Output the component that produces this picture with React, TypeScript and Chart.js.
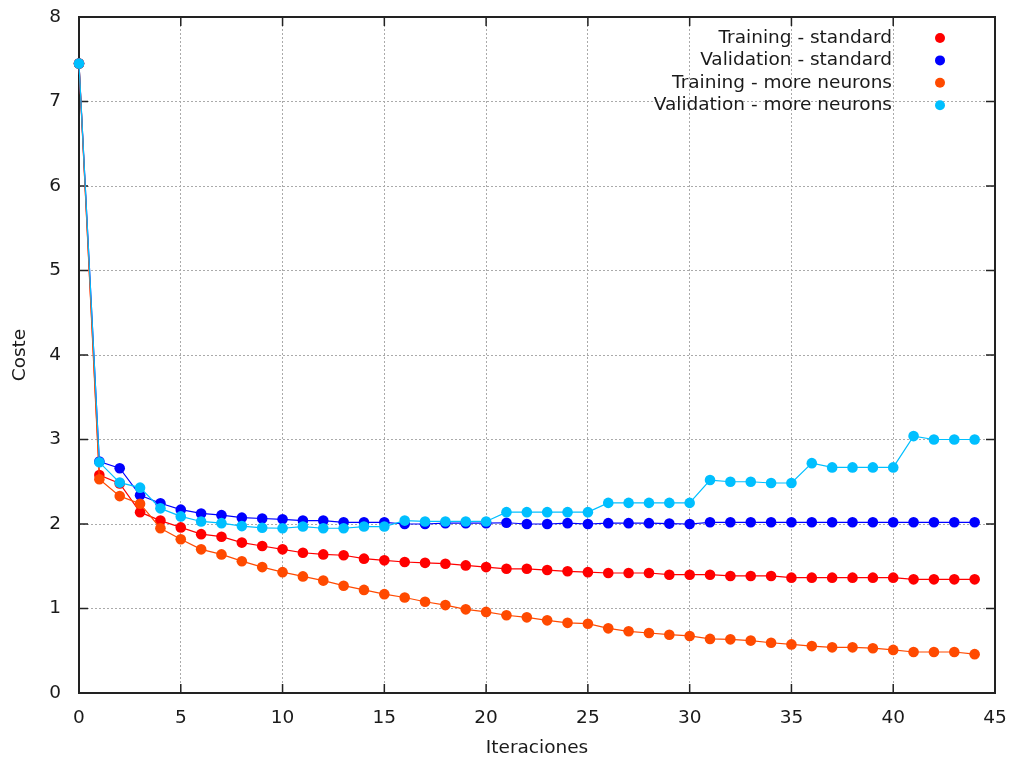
import React, { useEffect, useRef } from "react";
import { Chart, registerables } from "chart.js";

Chart.register(...registerables);

const iterations = [0, 1, 2, 3, 4, 5, 6, 7, 8, 9, 10, 11, 12, 13, 14, 15, 16, 17, 18, 19, 20, 21, 22, 23, 24, 25, 26, 27, 28, 29, 30, 31, 32, 33, 34, 35, 36, 37, 38, 39, 40, 41, 42, 43, 44];

const trainingStandard = [7.45, 2.58, 2.48, 2.14, 2.04, 1.96, 1.88, 1.85, 1.78, 1.74, 1.7, 1.66, 1.64, 1.63, 1.59, 1.57, 1.55, 1.54, 1.53, 1.51, 1.49, 1.47, 1.47, 1.455, 1.44, 1.43, 1.42, 1.42, 1.42, 1.4, 1.4, 1.4, 1.385, 1.385, 1.385, 1.365, 1.365, 1.365, 1.365, 1.365, 1.365, 1.345, 1.345, 1.345, 1.345];

const validationStandard = [7.45, 2.74, 2.66, 2.34, 2.245, 2.17, 2.125, 2.105, 2.075, 2.065, 2.055, 2.04, 2.04, 2.02, 2.02, 2.02, 2.0, 2.0, 2.01, 2.01, 2.01, 2.015, 2.0, 2.0, 2.01, 2.0, 2.01, 2.01, 2.01, 2.005, 2.0, 2.02, 2.02, 2.02, 2.02, 2.02, 2.02, 2.02, 2.02, 2.02, 2.02, 2.02, 2.02, 2.02, 2.02];

const trainingMore = [7.45, 2.53, 2.33, 2.24, 1.95, 1.82, 1.7, 1.64, 1.56, 1.49, 1.43, 1.38, 1.33, 1.27, 1.22, 1.17, 1.13, 1.08, 1.04, 0.99, 0.96, 0.92, 0.895, 0.86, 0.83, 0.82, 0.765, 0.73, 0.71, 0.69, 0.675, 0.64, 0.635, 0.62, 0.595, 0.575, 0.555, 0.54, 0.54, 0.53, 0.51, 0.485, 0.485, 0.485, 0.46];

const validationMore = [7.45, 2.73, 2.49, 2.43, 2.185, 2.09, 2.03, 2.01, 1.975, 1.955, 1.95, 1.97, 1.95, 1.95, 1.97, 1.97, 2.04, 2.03, 2.03, 2.03, 2.03, 2.14, 2.14, 2.14, 2.14, 2.14, 2.25, 2.25, 2.25, 2.25, 2.25, 2.52, 2.5, 2.5, 2.485, 2.485, 2.72, 2.67, 2.67, 2.67, 2.67, 3.04, 3.0, 3.0, 3.0];

const seriesLabels = ["Training - standard", "Validation - standard", "Training - more neurons", "Validation - more neurons"];
const seriesColors = ["#ff0000", "#0000ff", "#ff4a00", "#00bfff"];
const xTitle = "Iteraciones";
const yTitle = "Coste";

const FONT = "DejaVu Sans";
const FONT_SIZE = 18.5;

const framePlugin = {
  id: "gnuplotFrame",
  beforeDatasetsDraw(chart: any) {
    const { ctx, chartArea } = chart;
    const { left, right, top, bottom } = chartArea;
    const xs = chart.scales.x;
    const ys = chart.scales.y;
    ctx.save();
    ctx.strokeStyle = "#222";
    ctx.lineWidth = 1.5;
    const tl = 9;
    ctx.beginPath();
    xs.ticks.forEach((t: any) => {
      const px = xs.getPixelForValue(t.value);
      ctx.moveTo(px, bottom);
      ctx.lineTo(px, bottom - tl);
      ctx.moveTo(px, top);
      ctx.lineTo(px, top + tl);
    });
    ys.ticks.forEach((t: any) => {
      const py = ys.getPixelForValue(t.value);
      ctx.moveTo(left, py);
      ctx.lineTo(left + tl, py);
      ctx.moveTo(right, py);
      ctx.lineTo(right - tl, py);
    });
    ctx.stroke();
    ctx.lineWidth = 2;
    ctx.strokeRect(left, top, right - left, bottom - top);
    ctx.restore();
  },
  afterDraw(chart: any) {
    const { ctx, chartArea } = chart;
    ctx.save();
    ctx.font = `${FONT_SIZE}px "${FONT}"`;
    ctx.fillStyle = "#1a1a1a";
    ctx.textAlign = "center";
    ctx.textBaseline = "middle";
    ctx.fillText(xTitle, (chartArea.left + chartArea.right) / 2, 748);
    ctx.save();
    ctx.translate(20, 355);
    ctx.rotate(-Math.PI / 2);
    ctx.fillText(yTitle, 0, 0);
    ctx.restore();
    const textRight = 892;
    const markerX = 940;
    seriesLabels.forEach((lbl, i) => {
      const y = 38 + i * 22.4;
      ctx.textAlign = "right";
      ctx.fillStyle = "#1a1a1a";
      ctx.fillText(lbl, textRight, y);
      ctx.beginPath();
      ctx.fillStyle = seriesColors[i];
      ctx.arc(markerX, y, 5, 0, Math.PI * 2);
      ctx.fill();
    });
    ctx.restore();
  },
};

export default function App() {
  const canvasRef = useRef<HTMLCanvasElement | null>(null);

  useEffect(() => {
    if (!canvasRef.current) return;
    const series = [trainingStandard, validationStandard, trainingMore, validationMore];
    const datasets = series.map((vals, i) => ({
      label: seriesLabels[i],
      data: iterations.map((x, j) => ({ x, y: vals[j] })),
      borderColor: seriesColors[i],
      backgroundColor: seriesColors[i],
      pointBackgroundColor: seriesColors[i],
      pointBorderColor: seriesColors[i],
      borderWidth: 1.2,
      pointRadius: 5.3,
      pointBorderWidth: 0,
      pointHoverRadius: 5.3,
      fill: false,
      tension: 0,
      clip: false as any,
      order: 3 - i,
    }));
    const chart = new Chart(canvasRef.current, {
      type: "line",
      data: { datasets },
      plugins: [framePlugin],
      options: {
        animation: false,
        responsive: true,
        maintainAspectRatio: false,
        layout: { padding: { left: 0, right: 16, top: 17, bottom: 0 } },
        plugins: {
          legend: { display: false },
          tooltip: { enabled: false },
        },
        scales: {
          x: {
            type: "linear",
            min: 0,
            max: 45,
            afterFit: (s: any) => {
              s.height = 67;
              s.paddingLeft = 0;
              s.paddingRight = 0;
            },
            ticks: {
              stepSize: 5,
              padding: 14,
              color: "#1a1a1a",
              font: { family: FONT, size: FONT_SIZE },
              maxRotation: 0,
            },
            grid: { color: "#aaaaaa", lineWidth: 1, drawTicks: false },
            border: { display: false, dash: [2, 2] },
          },
          y: {
            type: "linear",
            min: 0,
            max: 8,
            afterFit: (s: any) => {
              s.width = 79;
              s.paddingTop = 0;
              s.paddingBottom = 0;
            },
            ticks: {
              stepSize: 1,
              padding: 18,
              color: "#1a1a1a",
              font: { family: FONT, size: FONT_SIZE },
            },
            grid: { color: "#aaaaaa", lineWidth: 1, drawTicks: false },
            border: { display: false, dash: [2, 2] },
          },
        },
      },
    });
    return () => chart.destroy();
  }, []);

  return (
    <div style={{ position: "absolute", left: 0, top: 0, width: 1011, height: 760, background: "#fff" }}>
      <canvas ref={canvasRef} />
    </div>
  );
}
